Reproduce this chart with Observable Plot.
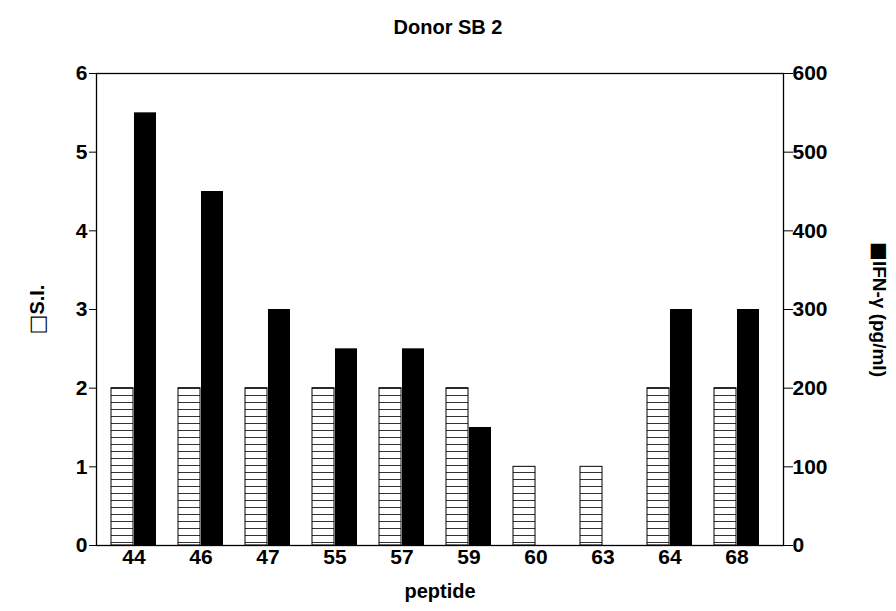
<!DOCTYPE html>
<html>
<head>
<meta charset="utf-8">
<script src="https://cdn.jsdelivr.net/npm/d3@7"></script>
<script src="https://cdn.jsdelivr.net/npm/@observablehq/plot@0.6"></script>
<style>
  body { margin: 0; background: #fff; }
  #wrap { position: relative; width: 896px; height: 611px; font-family: "Liberation Sans", Arial, sans-serif; }
  #title { position: absolute; top: 16px; left: 0; width: 896px; text-align: center; font-weight: bold; font-size: 20px; }
</style>
</head>
<body>
<div id="wrap"><div id="title">Donor SB 2</div></div>
<script>
const peptides = ["44", "46", "47", "55", "57", "59", "60", "63", "64", "68"];
const siValues = [2, 2, 2, 2, 2, 2, 1, 1, 2, 2];
const ifnValues = [550, 450, 300, 250, 250, 150, 0, 0, 300, 300];
const siTicks = [0, 1, 2, 3, 4, 5, 6];
const ifnTicks = [0, 100, 200, 300, 400, 500, 600];
const siLabel = ["\u25A1", "S.I."];
const ifnLabel = ["\u25A0", "IFN-\u03B3 (pg/ml)"];

const data = peptides.map((p, i) => ({peptide: p, si: siValues[i], ifn: ifnValues[i]}));
const ifnScale = 100; // right axis maps 0..600 onto 0..6

const defsMark = () => {
  const ns = "http://www.w3.org/2000/svg";
  const defs = document.createElementNS(ns, "defs");
  const pat = document.createElementNS(ns, "pattern");
  pat.setAttribute("id", "hatch");
  pat.setAttribute("patternUnits", "userSpaceOnUse");
  pat.setAttribute("width", "8");
  pat.setAttribute("height", "7");
  const bg = document.createElementNS(ns, "rect");
  bg.setAttribute("width", "8"); bg.setAttribute("height", "7"); bg.setAttribute("fill", "#fff");
  const ln = document.createElementNS(ns, "line");
  ln.setAttribute("x1", "0"); ln.setAttribute("x2", "8");
  ln.setAttribute("y1", "3.5"); ln.setAttribute("y2", "3.5");
  ln.setAttribute("stroke", "#333"); ln.setAttribute("stroke-width", "1");
  pat.appendChild(bg); pat.appendChild(ln); defs.appendChild(pat);
  return defs;
};

const marginLeft = 96, marginRight = 113;
const paddingInner = 0.324, paddingOuter = 0.2135;
const step = (896 - marginLeft - marginRight) / (peptides.length - paddingInner + 2 * paddingOuter);
const half = step * (1 - paddingInner) / 2;

const chart = Plot.plot({
  width: 896,
  height: 611,
  marginTop: 73,
  marginBottom: 66,
  marginLeft,
  marginRight,
  style: {fontFamily: "Liberation Sans, Arial, sans-serif", fontSize: "21px", fontWeight: "bold", color: "#000", background: "#fff"},
  x: {domain: peptides, paddingInner, paddingOuter, align: 0.38},
  y: {domain: [0, 6]},
  marks: [
    defsMark,
    Plot.barY(data, {x: "peptide", y: "si", fill: "url(#hatch)", stroke: "#000", strokeWidth: 1, insetRight: half}),
    Plot.barY(data, {x: "peptide", y: d => d.ifn / ifnScale, fill: "#000", insetLeft: half}),
    Plot.frame({stroke: "#000", strokeWidth: 1.3}),
    Plot.axisX({tickSize: 0, tickPadding: 4, fontSize: 21, label: "peptide", labelAnchor: "center", labelOffset: 52, labelArrow: "none"}),
    Plot.axisY({anchor: "left", ticks: siTicks, tickSize: 7, tickPadding: 2, tickFormat: d => d, label: siLabel.join(""), labelAnchor: "center", labelOffset: 73, labelArrow: "none"}),
    Plot.axisY({anchor: "right", ticks: ifnTicks.map(v => v / ifnScale), tickSize: 9, tickPadding: 0, tickFormat: d => Math.round(d * ifnScale), label: ifnLabel.join(""), labelAnchor: "center", labelOffset: 96, labelArrow: "none"})
  ]
});
d3.select(chart).selectAll("g[aria-label='x-axis label'] text").style("font-size", "20px");
const yLabels = d3.select(chart).selectAll("g[aria-label='y-axis label']").nodes();
yLabels.forEach((g, i) => {
  const parts = i === 1 ? ifnLabel : siLabel;
  d3.select(g).selectAll("text")
    .attr("dy", "0.32em")
    .style("font-size", i === 1 ? "19px" : "20px")
    .attr("transform", function() {
      const t = this.getAttribute("transform") || "";
      return i === 1 ? t.replace("rotate(-90)", "rotate(90)") : t;
    })
    .each(function() {
      const t = d3.select(this);
      t.text(null);
      t.append("tspan").style("font-size", "1.05em").style("font-family", "DejaVu Sans").style("font-weight", "normal").text(parts[0]);
      t.append("tspan").text(parts[1]);
    });
});
document.getElementById("wrap").appendChild(chart);
</script>
</body>
</html>
